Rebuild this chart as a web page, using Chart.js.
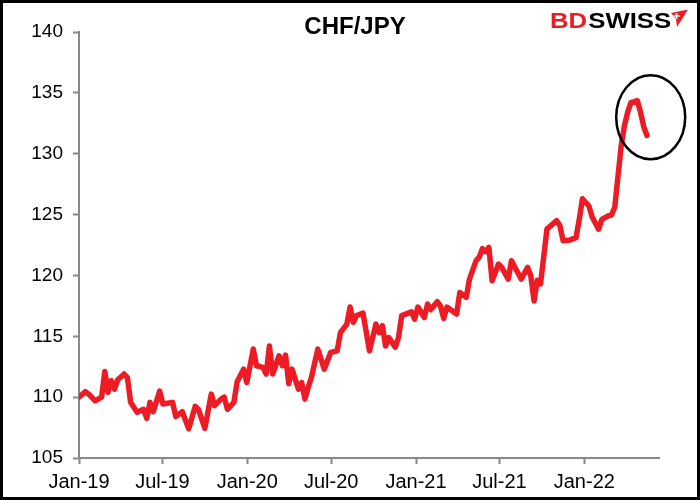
<!DOCTYPE html>
<html>
<head>
<meta charset="utf-8">
<script src="https://cdn.jsdelivr.net/npm/chart.js@4.4.1/dist/chart.umd.min.js"></script>
<style>
  html, body { margin: 0; padding: 0; background: #fff; }
  #wrap { width: 700px; height: 500px; }
</style>
</head>
<body>
<div id="wrap"><canvas id="chfJpyChart" width="700" height="500"></canvas></div>
<script>
// weekly CHF/JPY closes, x = weeks since 1 Jan 2019
const startDate = '2019-01-01';
const weeks = [
  0, 2, 3, 5, 7, 8, 9, 10, 11, 12, 14, 15, 16, 18, 20, 21, 22, 23, 25, 26,
  29, 30, 32, 34, 36, 37, 39, 41, 42, 44, 45, 46, 48, 49, 51, 52, 54, 55, 57, 58,
  59, 60, 62, 63, 64, 65, 66, 68, 69, 70, 71, 72, 74, 76, 78, 80, 81, 83, 84, 85,
  86, 88, 90, 92, 93, 94, 95, 96, 98, 99, 100, 103, 104, 105, 107, 108, 109, 111, 112, 113,
  114, 117, 118, 120, 121, 123, 124, 125, 126, 127, 128, 130, 131, 133, 134, 137, 139, 140, 141, 142,
  143, 145, 148, 149, 150, 152, 154, 155, 156, 158, 159, 161, 162, 164, 165, 166, 168, 169, 170, 171,
  173, 174, 175, 176
];
const chfJpy = [
  110.0, 110.45, 110.25, 109.7, 110.0, 112.1, 110.4, 111.35, 110.66, 111.43, 111.9, 111.6, 109.57, 108.75, 109.0, 108.26, 109.57, 108.8, 110.5, 109.43,
  109.57, 108.4, 108.8, 107.4, 109.24, 109.0, 107.44, 110.25, 109.3, 109.84, 110.0, 109.0, 109.57, 111.27, 112.3, 111.2, 113.95, 112.58, 112.45, 111.9,
  114.2, 111.9, 113.4, 112.58, 113.46, 111.1, 112.3, 110.66, 111.2, 109.84, 110.8, 111.6, 113.95, 112.3, 113.68, 113.8, 115.3, 116.0, 117.4, 116.15,
  116.7, 116.9, 113.8, 116.0, 115.3, 115.87, 114.2, 114.9, 114.1, 114.9, 116.7, 117.0, 116.4, 117.4, 116.55, 117.65, 117.2, 117.84, 117.5, 116.47,
  117.4, 116.83, 118.6, 118.2, 119.7, 121.2, 121.5, 122.2, 121.95, 122.3, 119.56, 120.93, 120.66, 119.7, 121.2, 119.7, 120.66, 119.97, 117.9, 119.6,
  119.3, 123.8, 124.5, 124.1, 122.85, 122.9, 123.1, 124.6, 126.3, 125.7, 124.8, 123.8, 124.6, 124.9, 124.96, 125.6, 130.66, 132.3, 133.4, 134.2,
  134.35, 133.4, 132.2, 131.5
];
const tickDates = ['2019-01-01', '2019-07-01', '2020-01-01', '2020-07-01', '2021-01-01', '2021-07-01', '2022-01-01'];
const tickLabels = ['Jan-19', 'Jul-19', 'Jan-20', 'Jul-20', 'Jan-21', 'Jul-21', 'Jan-22'];
const axisEndDate = '2022-06-12';
const yMin = 105, yMax = 140, yStep = 5;
// the circled recent spike
const circleDate = '2022-05-25';
const circleLevel = 133.0;

const weekOf = d => (new Date(d) - new Date(startDate)) / (7 * 864e5);

const FONT = "'Liberation Sans', Arial, sans-serif";
const RED = 'rgb(237, 28, 36)';
const AXIS_GREY = '#898989';

const extras = {
  id: 'extras',
  afterDatasetsDraw(chart) {
    const ctx = chart.ctx;
    const xs = chart.scales.x, ys = chart.scales.y;
    ctx.save();
    ctx.strokeStyle = '#000';
    ctx.lineWidth = 2.5;
    ctx.beginPath();
    ctx.ellipse(xs.getPixelForValue(weekOf(circleDate)), ys.getPixelForValue(circleLevel), 34.5, 42, 0, 0, Math.PI * 2);
    ctx.stroke();
    ctx.restore();
  },
  afterDraw(chart) {
    const ctx = chart.ctx;
    ctx.save();
    // title
    ctx.fillStyle = '#000';
    ctx.font = 'bold 24px ' + FONT;
    ctx.textAlign = 'center';
    ctx.textBaseline = 'alphabetic';
    ctx.fillText('CHF/JPY', 355, 34);

    // logo
    ctx.font = 'bold 22px ' + FONT;
    ctx.textAlign = 'left';
    const wBD = ctx.measureText('BD').width;
    const wAll = ctx.measureText('BDSWISS').width;
    const sx = 120 / wAll;
    ctx.save();
    ctx.translate(550, 28);
    ctx.scale(sx, 1);
    ctx.fillStyle = RED;
    ctx.fillText('BD', 0, 0);
    ctx.fillStyle = '#000';
    ctx.fillText('SWISS', wBD + 1, 0);
    ctx.restore();
    ctx.fillStyle = RED;
    ctx.beginPath();
    ctx.moveTo(671, 13);
    ctx.lineTo(688, 9.5);
    ctx.lineTo(677, 27);
    ctx.lineTo(676, 19);
    ctx.closePath();
    ctx.fill();
    ctx.strokeStyle = '#fff';
    ctx.lineWidth = 1.5;
    ctx.beginPath();
    ctx.moveTo(676.5, 13); ctx.lineTo(676.5, 19);
    ctx.moveTo(673.5, 16); ctx.lineTo(679.5, 16);
    ctx.stroke();

    // frame
    ctx.strokeStyle = '#000';
    ctx.lineWidth = 3;
    ctx.strokeRect(1.5, 1.5, 697, 497);
    ctx.restore();
  }
};

new Chart(document.getElementById('chfJpyChart').getContext('2d'), {
  type: 'line',
  data: {
    datasets: [{
      label: 'CHF/JPY',
      data: weeks.map((w, i) => ({ x: w, y: chfJpy[i] })),
      borderColor: RED,
      borderWidth: 5.5,
      borderJoinStyle: 'round',
      borderCapStyle: 'round',
      pointRadius: 0,
      tension: 0,
      fill: false
    }]
  },
  options: {
    responsive: false,
    animation: false,
    devicePixelRatio: 1,
    layout: { padding: { top: 32, right: 41, left: 0, bottom: 0 } },
    plugins: {
      legend: { display: false },
      title: { display: false },
      tooltip: { enabled: false }
    },
    scales: {
      x: {
        type: 'linear',
        min: 0,
        max: weekOf(axisEndDate),
        afterBuildTicks: scale => {
          scale.ticks = tickDates.map(d => ({ value: weekOf(d) }));
        },
        afterFit: scale => { scale.height = 42; },
        ticks: {
          autoSkip: false,
          maxRotation: 0,
          padding: 6,
          color: '#000',
          font: { family: FONT, size: 20 },
          callback: (v, i) => tickLabels[i]
        },
        grid: { drawOnChartArea: false, tickLength: 6, tickColor: AXIS_GREY, tickWidth: 2 },
        border: { display: true, color: AXIS_GREY, width: 2 }
      },
      y: {
        min: yMin,
        max: yMax,
        afterFit: scale => { scale.width = 79; },
        ticks: {
          stepSize: yStep,
          padding: 10,
          color: '#000',
          font: { family: FONT, size: 19 }
        },
        grid: { drawOnChartArea: false, tickLength: 6, tickColor: AXIS_GREY, tickWidth: 2 },
        border: { display: true, color: AXIS_GREY, width: 2 }
      }
    }
  },
  plugins: [extras]
});
</script>
</body>
</html>
